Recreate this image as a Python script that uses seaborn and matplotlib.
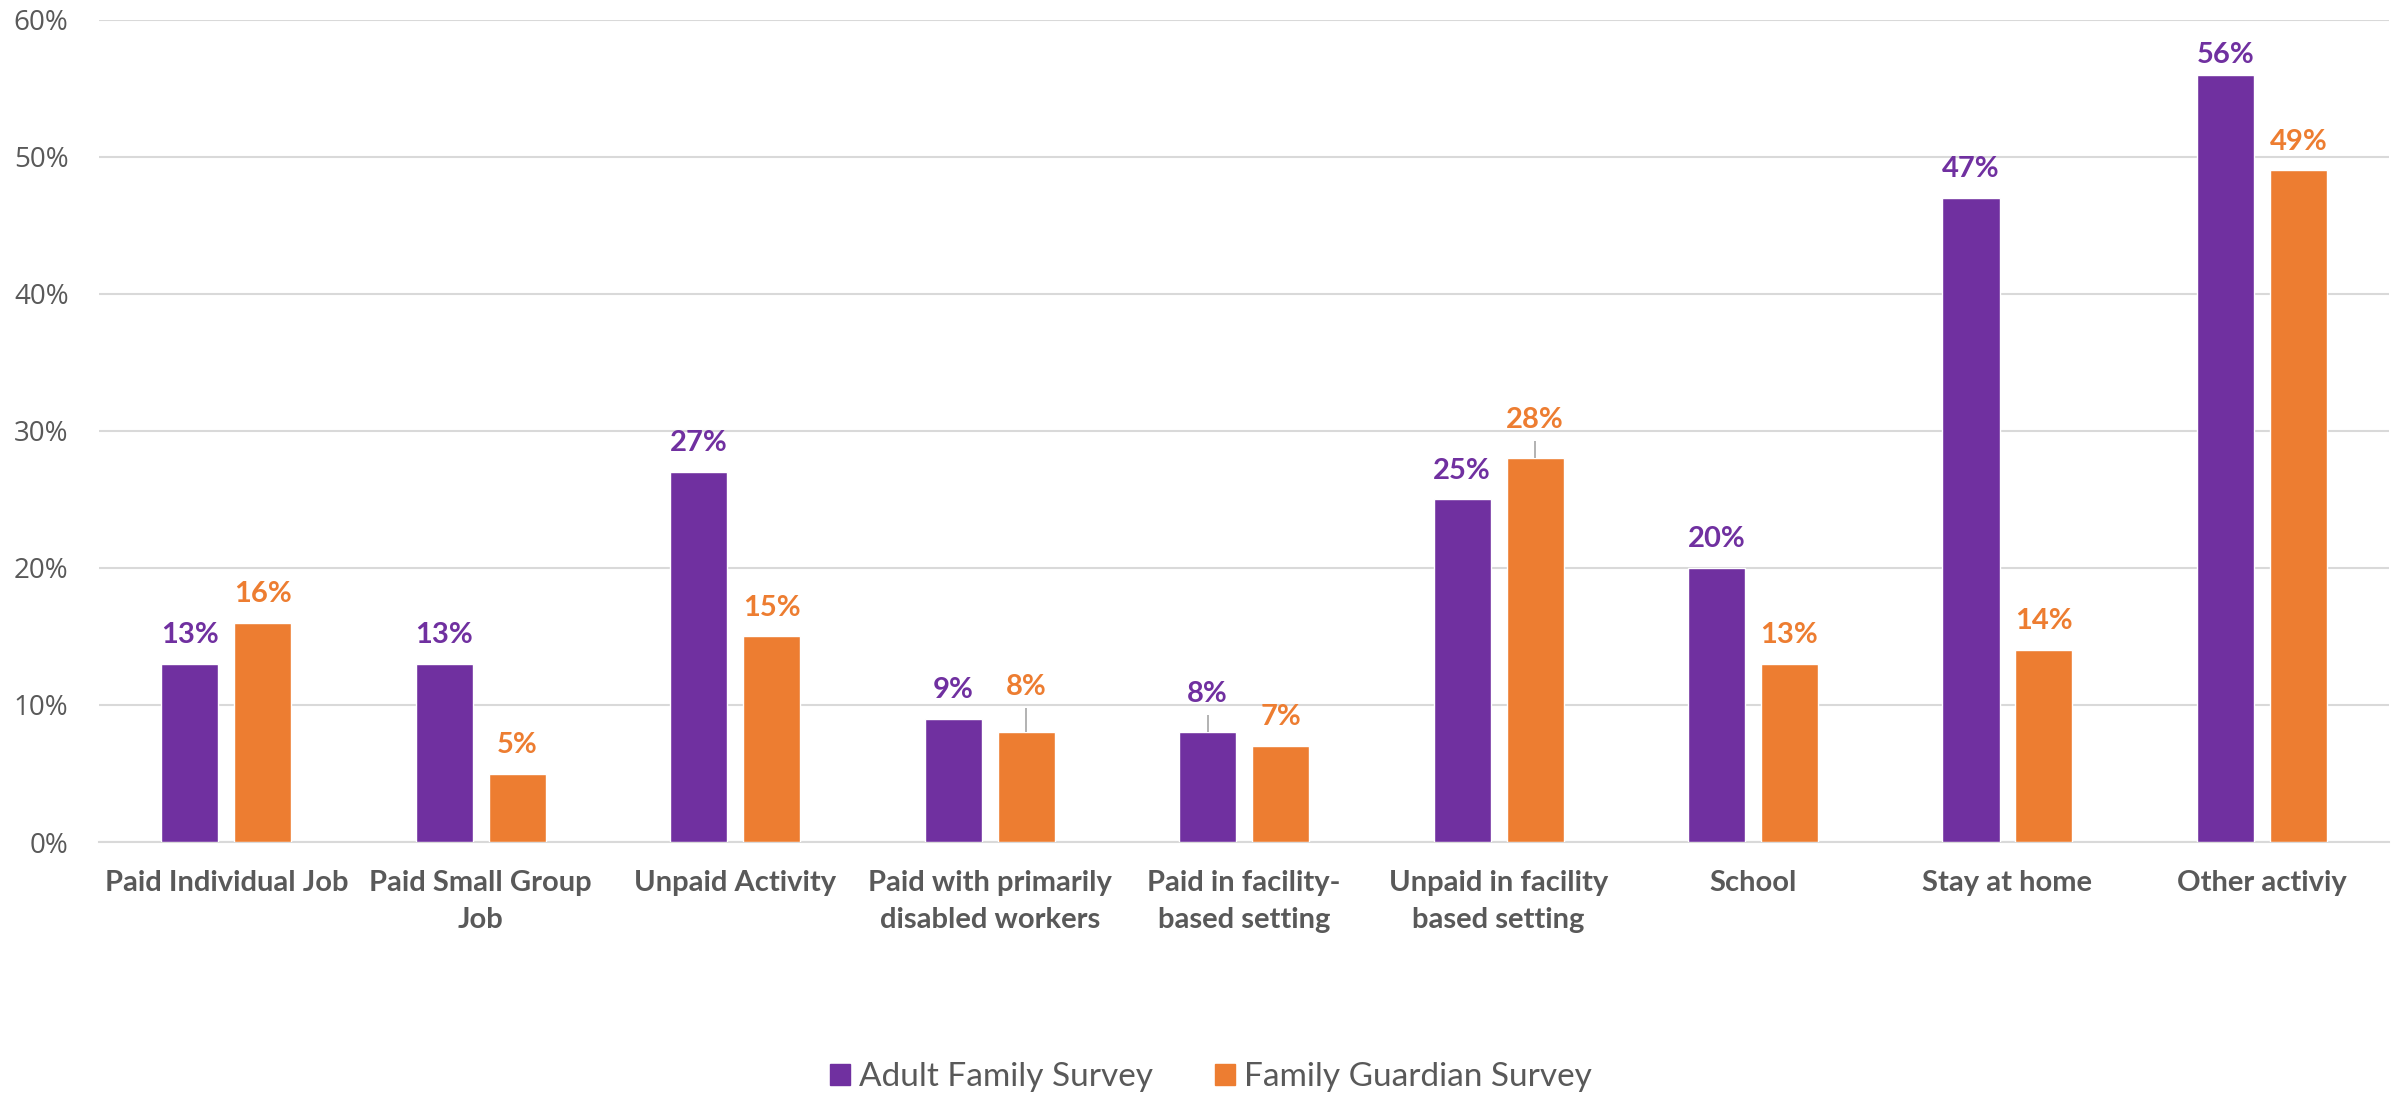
import matplotlib
matplotlib.use("Agg")
import matplotlib.pyplot as plt
import seaborn as sns
import pandas as pd

categories = [
    "Paid Individual Job",
    "Paid Small Group\nJob",
    "Unpaid Activity",
    "Paid with primarily\ndisabled workers",
    "Paid in facility-\nbased setting",
    "Unpaid in facility\nbased setting",
    "School",
    "Stay at home",
    "Other activiy",
]
series_names = ["Adult Family Survey", "Family Guardian Survey"]
adult_values = [13, 13, 27, 9, 8, 25, 20, 47, 56]
guardian_values = [16, 5, 15, 8, 7, 28, 13, 14, 49]
y_ticks = [0, 10, 20, 30, 40, 50, 60]

PURPLE = "#7030A0"
ORANGE = "#ED7D31"
GRID = "#D9D9D9"
TEXT = "#595959"

df = pd.DataFrame({
    "category": categories * 2,
    "survey": [series_names[0]] * len(categories) + [series_names[1]] * len(categories),
    "value": adult_values + guardian_values,
})

sns.set_theme(style="white")
plt.rcParams["font.family"] = ["Lato", "DejaVu Sans"]

fig = plt.figure(figsize=(24.05, 10.94), dpi=100)
ax = fig.add_axes([0.0412, 0.2303, 0.9522, 0.7517])

sns.barplot(
    data=df, x="category", y="value", hue="survey",
    order=categories, hue_order=series_names,
    palette=[PURPLE, ORANGE], width=0.573, gap=0.218,
    saturation=1, ax=ax, legend=True, errorbar=None, zorder=3,
)

ax.set_ylim(0, 60)
ax.set_xlim(-0.5, len(categories) - 0.5)
ax.set_yticks(y_ticks)
ax.set_yticklabels([f"{t}%" for t in y_ticks], fontsize=20, color=TEXT,
                   family=["Open Sans", "DejaVu Sans"])
ax.tick_params(axis="y", length=0, pad=22)
ax.tick_params(axis="x", length=0, pad=20)
ax.set_xticks(range(len(categories)))
ax.set_xticklabels(categories, fontsize=21, fontweight="bold", color=TEXT,
                   linespacing=1.55)
ax.set_xlabel("")
ax.set_ylabel("")
ax.yaxis.grid(True, color=GRID, linewidth=1.5, zorder=0)
ax.set_axisbelow(True)
for side in ["left", "right", "top"]:
    ax.spines[side].set_visible(False)
ax.spines["bottom"].set_color(GRID)
ax.spines["bottom"].set_linewidth(1.5)

# Value labels; some are shifted, the lifted ones get a short leader line
shifted = {(3, 1): 1.2, (4, 0): 0.7, (5, 1): 0.7, (8, 0): -0.65}
for s_idx, (container, vals, col) in enumerate(
        zip(ax.containers, [adult_values, guardian_values], [PURPLE, ORANGE])):
    for c_idx, (bar, v) in enumerate(zip(container.patches, vals)):
        xc = bar.get_x() + bar.get_width() / 2
        extra = shifted.get((c_idx, s_idx), 0.0)
        ly = v + 2.1 + extra
        if extra > 0:
            ax.plot([xc, xc], [v, ly - 1.55], color="#A6A6A6", linewidth=1.2,
                    zorder=4, solid_capstyle="butt")
        ax.text(xc, ly, f"{v}%", ha="center", va="center", fontsize=21,
                fontweight="bold", color=col, zorder=5)

ax.get_legend().remove()
handles = [plt.Rectangle((0, 0), 1, 1, color=PURPLE),
           plt.Rectangle((0, 0), 1, 1, color=ORANGE)]
fig.legend(handles, series_names, loc="center", bbox_to_anchor=(0.5035, 0.0155),
           ncol=2, frameon=False, fontsize=24, handlelength=0.6, handleheight=0.6,
           handletextpad=0.28, columnspacing=1.85, labelcolor=TEXT)

fig.savefig("out.png", dpi=100)
